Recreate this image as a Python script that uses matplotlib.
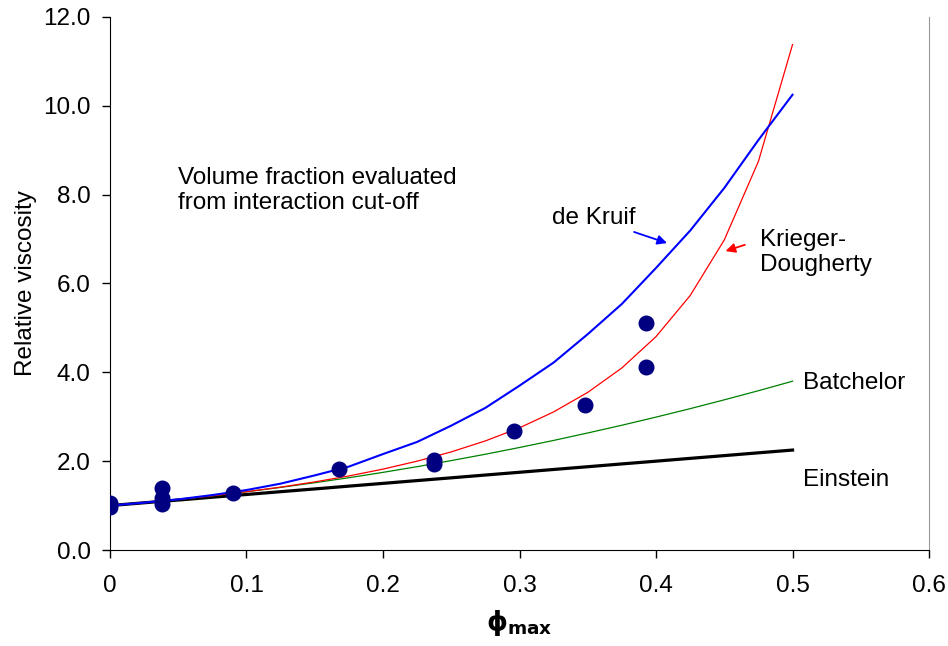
import matplotlib.pyplot as plt
from matplotlib.ticker import FuncFormatter

plt.rcParams["font.family"] = ["Liberation Sans", "DejaVu Sans"]
plt.rcParams["mathtext.fontset"] = "dejavusans"

# model curves at steps of 0.025
phi_curve = [0.0, 0.025, 0.05, 0.075, 0.1, 0.125, 0.15, 0.175, 0.2, 0.225, 0.25,
             0.275, 0.3, 0.325, 0.35, 0.375, 0.4, 0.425, 0.45, 0.475, 0.5]
de_kruif = [1.0, 1.066, 1.14, 1.237, 1.35, 1.494, 1.68, 1.878, 2.16, 2.433, 2.80,
            3.20, 3.70, 4.22, 4.86, 5.54, 6.35, 7.19, 8.15, 9.23, 10.25]
krieger = [1.0, 1.066, 1.139, 1.221, 1.312, 1.416, 1.533, 1.667, 1.821, 2.0, 2.209,
           2.456, 2.751, 3.109, 3.549, 4.099, 4.804, 5.728, 6.98, 8.748, 11.378]
batchelor = [1.0, 1.066, 1.141, 1.222, 1.312, 1.409, 1.515, 1.627, 1.748, 1.876, 2.013,
             2.156, 2.308, 2.467, 2.635, 2.809, 2.992, 3.182, 3.381, 3.586, 3.80]
einstein = [1.0, 1.063, 1.125, 1.188, 1.25, 1.313, 1.375, 1.438, 1.5, 1.563, 1.625,
            1.688, 1.75, 1.813, 1.875, 1.938, 2.0, 2.063, 2.125, 2.188, 2.25]

# measured points
phi_meas = [0.0, 0.0, 0.038, 0.038, 0.038, 0.09, 0.168, 0.237, 0.237, 0.296, 0.348, 0.393, 0.393]
visc_meas = [0.97, 1.05, 1.40, 1.16, 1.03, 1.29, 1.83, 1.93, 2.03, 2.69, 3.27, 4.11, 5.12]

FS = 17.5

fig = plt.figure(figsize=(9.48, 6.46), dpi=100)
ax = fig.add_axes([0.116, 0.1486, 0.864, 0.8251])

ax.plot(phi_curve, einstein, color="black", lw=2.3)
ax.plot(phi_curve, batchelor, color="green", lw=0.9)
ax.plot(phi_curve, krieger, color="red", lw=0.9)
ax.plot(phi_curve, de_kruif, color="blue", lw=1.5)
ax.plot(phi_meas, visc_meas, "o", color="#000080", ms=10.5, ls="none", zorder=5)

ax.set_xlim(0, 0.6)
ax.set_ylim(0, 12)
ax.set_xticks([0, 0.1, 0.2, 0.3, 0.4, 0.5, 0.6])
ax.set_xticklabels(["0", "0.1", "0.2", "0.3", "0.4", "0.5", "0.6"])
ax.set_yticks(range(0, 13, 2))
ax.yaxis.set_major_formatter(FuncFormatter(lambda v, p: f"{v:.1f}"))
ax.tick_params(direction="out", length=6, width=1, labelsize=FS)
ax.tick_params(axis="x", pad=12)
ax.tick_params(axis="y", pad=8)
ax.spines["top"].set_visible(False)
ax.spines["right"].set_color("#999999")

ax.set_ylabel("Relative viscosity", fontsize=FS, labelpad=4)
ax.set_xlabel(r"$\mathbf{\phi}_{\mathbf{max}}$", fontsize=19, labelpad=8)

ax.text(0.05, 8.1, "Volume fraction evaluated\nfrom interaction cut-off",
        fontsize=FS, va="center", ha="left", linespacing=1.2)
ax.text(0.324, 7.48, "de Kruif", fontsize=FS, va="center", ha="left")
ax.annotate("", xy=(0.410, 6.89), xytext=(0.382, 7.18),
            arrowprops=dict(arrowstyle="-|>", color="blue", lw=1.3, mutation_scale=14))
ax.text(0.476, 6.7, "Krieger-\nDougherty", fontsize=FS, va="center", ha="left",
        linespacing=1.2)
ax.annotate("", xy=(0.449, 6.71), xytext=(0.467, 6.89),
            arrowprops=dict(arrowstyle="-|>", color="red", lw=1.3, mutation_scale=14))
ax.text(0.508, 3.76, "Batchelor", fontsize=FS, va="center", ha="left")
ax.text(0.508, 1.58, "Einstein", fontsize=FS, va="center", ha="left")

fig.savefig("out.png", dpi=100)
